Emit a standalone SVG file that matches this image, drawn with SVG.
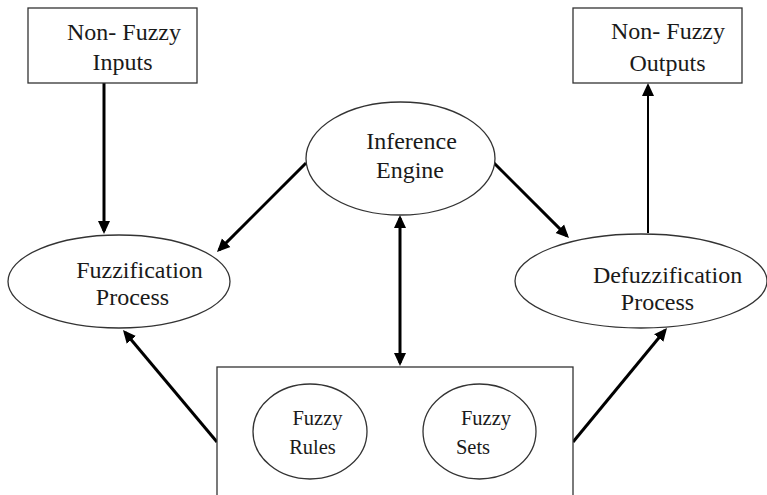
<svg xmlns="http://www.w3.org/2000/svg" width="767" height="495" viewBox="0 0 767 495">
  <style>
    .shape { fill: #ffffff; stroke: #333333; stroke-width: 1.3; }
    .label { font-family: "Liberation Serif", "Times New Roman", serif; font-size: 24px; fill: #1a1a1a; text-anchor: middle; }
    .small { font-size: 20.5px; }
    .conn { stroke: #000000; stroke-width: 3; fill: none; }
  </style>
  <defs>
    <marker id="head" markerUnits="userSpaceOnUse" viewBox="0 0 13 13" markerWidth="13" markerHeight="13" refX="10" refY="6.5" orient="auto-start-reverse">
      <path d="M0,0.5 L13,6.5 L0,12.5 Z" fill="#000000"/>
    </marker>
  </defs>
  <rect width="767" height="495" fill="#ffffff"/>

  <!-- arrows between the processing stages -->
  <g id="connectors">
    <line class="conn" x1="104" y1="83" x2="104" y2="231" marker-end="url(#head)"/>
    <line class="conn" x1="648" y1="233" x2="648" y2="86" style="stroke-width:2" marker-end="url(#head)"/>
    <line class="conn" x1="306" y1="163" x2="219.1" y2="249.9" marker-end="url(#head)"/>
    <line class="conn" x1="493" y1="162" x2="566.9" y2="235.9" marker-end="url(#head)"/>
    <line class="conn" x1="400" y1="218" x2="400" y2="363" marker-start="url(#head)" marker-end="url(#head)"/>
    <line class="conn" x1="217" y1="442" x2="124.9" y2="332.3" marker-end="url(#head)"/>
    <line class="conn" x1="573" y1="442" x2="665.1" y2="330.3" marker-end="url(#head)"/>
  </g>

  <g id="inputs">
    <rect class="shape" x="28" y="8" width="169" height="75"/>
    <text class="label" x="124" y="40">Non- Fuzzy</text>
    <text class="label" x="122.5" y="70">Inputs</text>
  </g>

  <g id="outputs">
    <rect class="shape" x="573" y="8" width="169" height="75"/>
    <text class="label" x="668" y="39">Non- Fuzzy</text>
    <text class="label" x="667.5" y="71">Outputs</text>
  </g>

  <g id="inference">
    <ellipse class="shape" cx="400.5" cy="158.5" rx="94.5" ry="56.5"/>
    <text class="label" x="411.5" y="149">Inference</text>
    <text class="label" x="410" y="178">Engine</text>
  </g>

  <g id="fuzzification">
    <ellipse class="shape" cx="119" cy="281.5" rx="111" ry="46.5"/>
    <text class="label" x="139.5" y="278">Fuzzification</text>
    <text class="label" x="132.5" y="305">Process</text>
  </g>

  <g id="defuzzification">
    <ellipse class="shape" cx="641" cy="281" rx="126" ry="47"/>
    <text class="label" x="667.5" y="283">Defuzzification</text>
    <text class="label" x="657.5" y="310">Process</text>
  </g>

  <!-- knowledge base holding the rule and set stores -->
  <g id="knowledge-base">
    <rect class="shape" x="217" y="367" width="356" height="160"/>
  </g>

  <g id="fuzzy-rules">
    <ellipse class="shape" cx="310" cy="431.5" rx="57" ry="47.5"/>
    <text class="label small" x="317.5" y="425">Fuzzy</text>
    <text class="label small" x="312.5" y="454">Rules</text>
  </g>

  <g id="fuzzy-sets">
    <ellipse class="shape" cx="479.5" cy="431.5" rx="56.5" ry="47.5"/>
    <text class="label small" x="486" y="425">Fuzzy</text>
    <text class="label small" x="473" y="454">Sets</text>
  </g>
</svg>
